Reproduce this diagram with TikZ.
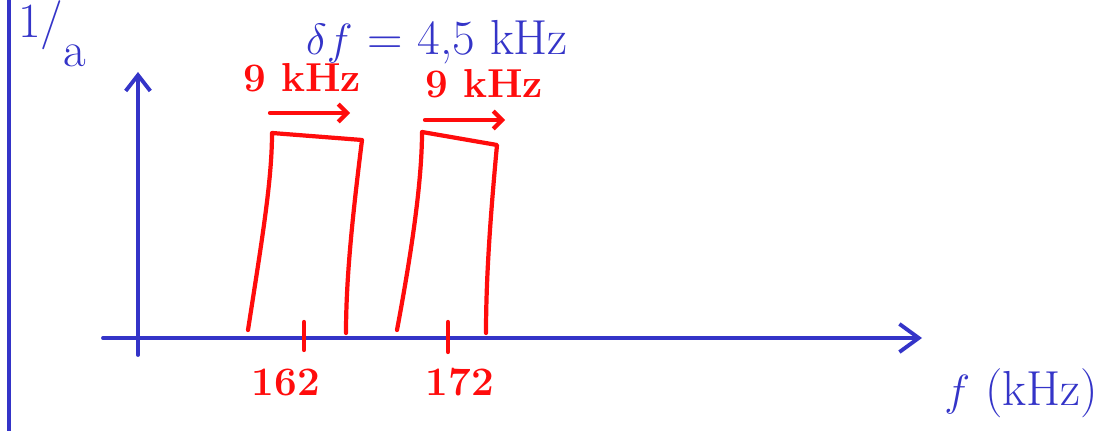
\documentclass[tikz,border=0pt]{standalone}
\usepackage{tikz}
\usetikzlibrary{arrows.meta,positioning}
\begin{document}
\begin{tikzpicture}[x=0.02cm,y=-0.02cm]
	\definecolor{inkblue}{RGB}{52,52,200}
	\definecolor{inkred}{RGB}{255,12,12}
	\tikzset{
		blueink/.style={inkblue,line width=2.2pt,line cap=round,line join=round},
		redink/.style={inkred,line width=2.4pt,line cap=round,line join=round},
		bluetext/.style={inkblue,font=\fontsize{28}{30}\selectfont},
		redtext/.style={inkred,font=\fontsize{23}{25}\selectfont\bfseries}
	}
	\useasboundingbox (0,0) rectangle (1114,431);

	% ---------- frame line on the left ----------
	\draw[blueink] (9,0) -- (9,431);
	\node[bluetext,anchor=west] (scale) at (12,34) {1/\lower0.6em\hbox{a}};

	% ---------- axes ----------
	\coordinate (yfoot) at (138,355);
	\coordinate (ytop) at (138,72);
	\coordinate (xfoot) at (103,338);
	\coordinate (xtip) at (922,338);
	\draw[blueink,-{Straight Barb[length=9pt,width=14pt]}] (yfoot) -- (ytop);
	\draw[blueink,-{Straight Barb[length=11pt,width=16pt]}] (xfoot) -- (xtip);
	\node[bluetext,anchor=east] (faxis) at (1104,393) {$f$ (kHz)};

	% ---------- half bandwidth ----------
	\node[bluetext,anchor=west] (deltaf) at (300,42) {$\delta f$ = 4,5 kHz};

	% ---------- the two channels ----------
	% channel at 162 kHz
	\draw[redink] (248,330) .. controls (262,240) and (272,180) .. (272,133)
		-- (362,140) .. controls (352,220) and (346,280) .. (346,333);
	% channel at 172 kHz
	\draw[redink] (397,330) .. controls (412,250) and (422,180) .. (422,132)
		-- (497,145) .. controls (490,220) and (486,280) .. (486,333);

	% widths
	\node[redtext] (bwleft) at (302,78) {9 kHz};
	\node[redtext] (bwright) at (484,84) {9 kHz};
	\coordinate (bwl0) at (270,113);
	\coordinate (bwl1) at (350,113);
	\coordinate (bwr0) at (425,120);
	\coordinate (bwr1) at (505,120);
	\draw[redink,-{Straight Barb[length=5pt,width=10pt]}] (bwl0) -- (bwl1);
	\draw[redink,-{Straight Barb[length=5pt,width=10pt]}] (bwr0) -- (bwr1);

	% carrier ticks
	\draw[redink] (304,322) -- (304,350);
	\draw[redink] (448,322) -- (448,352);
	\node[redtext] (fleft) at (286,382) {162};
	\node[redtext] (fright) at (460,382) {172};
\end{tikzpicture}
\end{document}
